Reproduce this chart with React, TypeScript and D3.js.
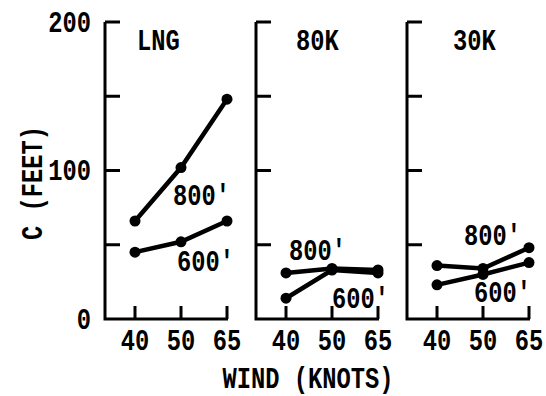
import React from "react";
import * as d3 from "d3";

// Wind speed categories (knots) shared by every panel
const winds = ["40", "50", "65"];
const yTicks = [0, 50, 100, 150, 200];
const yTickLabels = [0, 100, 200];

const panels = ["LNG", "80K", "30K"];

// C (feet) for each panel, upper-level (800') and lower-level (600') series
const lng800 = [66, 102, 148];
const lng600 = [45, 52, 66];
const k80_800 = [31, 34, 33];
const k80_600 = [14, 33, 31];
const k30_800 = [36, 34, 48];
const k30_600 = [23, 30, 38];

const series = [
  [lng800, lng600],
  [k80_800, k80_600],
  [k30_800, k30_600],
];
const seriesNames = ["800'", "600'"];

// Panel title inset from each panel's vertical axis
const titleInset = [32, 40, 46];

// Annotation anchor: category + offset in px, value on the C scale
const labelAnchors = [
  [
    { at: "50", dx: -8, v: 77 },
    { at: "50", dx: -4, v: 32 },
  ],
  [
    { at: "40", dx: 3, v: 40 },
    { at: "50", dx: 0, v: 7.5 },
  ],
  [
    { at: "50", dx: -19, v: 50 },
    { at: "50", dx: -9, v: 11.5 },
  ],
];

const FONT = "'Liberation Mono', 'DejaVu Sans Mono', monospace";
const SIZE = 29;
const SQUEEZE = 0.82;

// Condensed monospaced text: glyphs narrowed horizontally around the anchor
function T({
  x,
  y,
  anchor = "start",
  rotate = 0,
  dy,
  children,
}: {
  x: number;
  y: number;
  anchor?: "start" | "middle" | "end";
  rotate?: number;
  dy?: string;
  children: React.ReactNode;
}) {
  return (
    <text
      transform={`translate(${x},${y}) rotate(${rotate}) scale(${SQUEEZE},1)`}
      textAnchor={anchor}
      fontSize={SIZE}
      dy={dy}
      fill="#000"
    >
      {children}
    </text>
  );
}

export default function App() {
  const width = 546;
  const height = 396;
  const y = d3.scaleLinear().domain([0, 200]).range([319, 22]);
  const panelX = d3.scaleLinear().domain([0, 2]).range([105, 407]);
  const line = d3.line<[number, number]>();

  return (
    <svg
      width={width}
      height={height}
      style={{ position: "absolute", left: 0, top: 0, background: "#fff" }}
      fontFamily={FONT}
      fontWeight="bold"
    >
      {yTickLabels.map((t) => (
        <T key={t} x={91} y={y(t)} dy="0.33em" anchor="end">
          {t}
        </T>
      ))}
      <T x={42} y={183} rotate={-90} anchor="middle">
        C (FEET)
      </T>
      <T x={308} y={388} anchor="middle">
        WIND (KNOTS)
      </T>

      {panels.map((name, pi) => {
        const x0 = panelX(pi);
        const x = d3.scalePoint<string>().domain(winds).range([x0 + 30, x0 + 122]);
        const base = y(0);
        return (
          <g key={name}>
            <path
              d={`M${x0},${y(200)}V${base}H${x0 + 123}`}
              fill="none"
              stroke="#000"
              strokeWidth={3}
            />
            {yTicks.slice(1).map((t) => (
              <line
                key={t}
                x1={x0}
                x2={x0 + 15}
                y1={y(t)}
                y2={y(t)}
                stroke="#000"
                strokeWidth={3}
              />
            ))}
            {winds.map((w) => (
              <g key={w}>
                <line
                  x1={x(w)}
                  x2={x(w)}
                  y1={base}
                  y2={base - 13}
                  stroke="#000"
                  strokeWidth={3}
                />
                <T x={x(w)!} y={350} anchor="middle">
                  {w}
                </T>
              </g>
            ))}
            <T x={x0 + titleInset[pi]} y={50}>
              {name}
            </T>

            {series[pi].map((vals, si) => {
              const pts = vals.map((v, i) => [x(winds[i])!, y(v)] as [number, number]);
              return (
                <g key={si}>
                  <path d={line(pts)!} fill="none" stroke="#000" strokeWidth={4.5} />
                  {pts.map((p, i) => (
                    <circle key={i} cx={p[0]} cy={p[1]} r={5.5} fill="#000" />
                  ))}
                </g>
              );
            })}

            {labelAnchors[pi].map((a, si) => (
              <T key={si} x={x(a.at)! + a.dx} y={y(a.v)}>
                {seriesNames[si]}
              </T>
            ))}
          </g>
        );
      })}
    </svg>
  );
}
